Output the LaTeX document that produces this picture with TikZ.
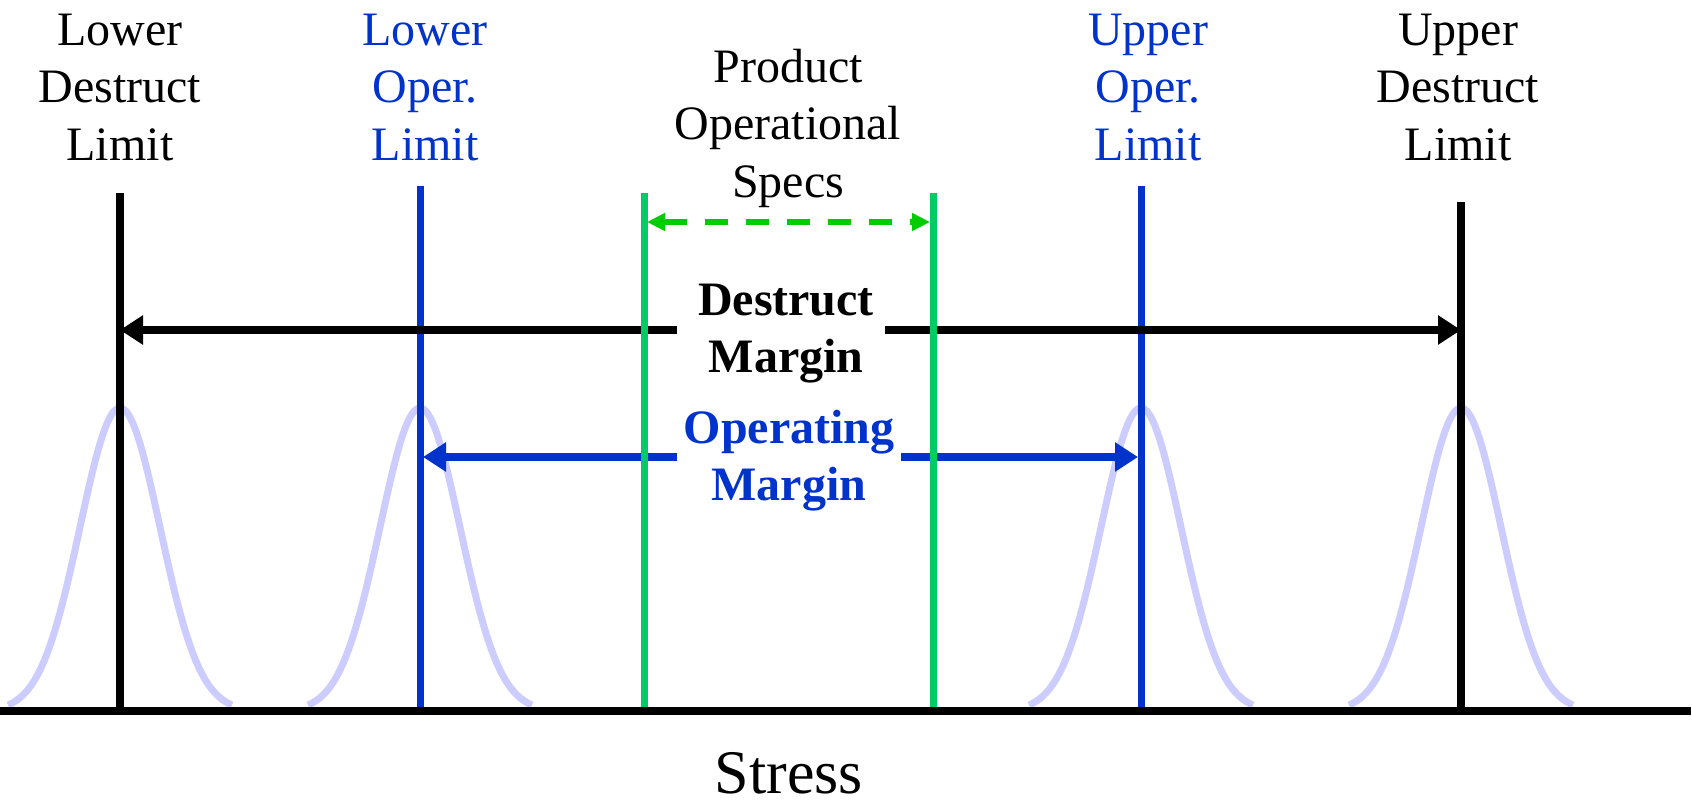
\documentclass[tikz,border=0pt]{standalone}
\usepackage{fontspec}
\setmainfont{Liberation Serif}
\usetikzlibrary{arrows.meta}

\definecolor{operblue}{HTML}{0033CC}
\definecolor{specgreen}{HTML}{00CC66}
\definecolor{specarrow}{HTML}{00CC00}
\definecolor{bellc}{HTML}{CCCCFF}

\tikzset{
  lbl/.style={align=center, inner sep=0pt, anchor=base,
              font=\fontsize{48}{57.5}\selectfont},
  marginlbl/.style={align=center, inner sep=0pt, anchor=base,
              font=\fontsize{48}{57}\selectfont\bfseries},
  limline/.style={line width=8pt},
  operline/.style={line width=7pt, operblue},
  specline/.style={line width=7pt, specgreen},
  bell/.style={line width=7pt, bellc},
  destarrow/.style={line width=8pt, -{Triangle[length=23pt,width=28pt]}},
  operarrow/.style={line width=8pt, operblue, -{Triangle[length=23pt,width=28pt]}, shorten >=3pt},
  specdash/.style={line width=6pt, specarrow, dash pattern=on 23pt off 18pt,
              {Triangle[length=18pt,width=17pt]}-{Triangle[length=18pt,width=17pt]},
              shorten >=3pt, shorten <=3pt},
}

\begin{document}
\begin{tikzpicture}[x=1pt,y=-1pt]
\useasboundingbox (0,0) rectangle (1692,801);

% line positions along the stress axis
\coordinate (ldT) at (120,193);  \coordinate (ldB) at (120,711);
\coordinate (loT) at (420,186);  \coordinate (loB) at (420,711);
\coordinate (psT) at (644,193);  \coordinate (psB) at (644,711);
\coordinate (peT) at (933,193);  \coordinate (peB) at (933,711);
\coordinate (uoT) at (1141,186); \coordinate (uoB) at (1141,711);
\coordinate (udT) at (1461,202); \coordinate (udB) at (1461,711);
\coordinate (axL) at (0,711);    \coordinate (axR) at (1691,711);

% distributions centred on each limit
\foreach \c in {120,420,1141,1461}{
  \draw[bell] plot[domain=-112:112, samples=90, smooth]
    ({\c+\x}, {711-303*exp(-(\x*\x)/3200)});
}

% limit lines
\draw[limline] (ldT) -- (ldB);
\draw[limline] (udT) -- (udB);
\draw[operline] (loT) -- (loB);
\draw[operline] (uoT) -- (uoB);

% margin labels and arrows (node base = last line)
\node[marginlbl] (dm) at (786,372) {Destruct\\Margin};
\node[marginlbl, operblue] (om) at (789,500) {Operating\\Margin};
\coordinate (dmL) at (677,330); \coordinate (dmR) at (885,330);
\coordinate (omL) at (677,457); \coordinate (omR) at (901,457);
\draw[destarrow] (dmL) -- (ldT |- dmL);
\draw[destarrow] (dmR) -- (udT |- dmR);
\draw[operarrow] (omL) -- (loT |- omL);
\draw[operarrow] (omR) -- (uoT |- omR);

% product specification lines
\draw[specline] (psT) -- (psB);
\draw[specline] (peT) -- (peB);
\coordinate (spL) at (644,222); \coordinate (spR) at (933,222);
\draw[specdash] (spL) -- (spR);

% stress axis
\draw[line width=8pt] (axL) -- (axR);

% limit labels
\node[lbl] (ldl) at (120,160) {Lower\\Destruct\\Limit};
\node[lbl, operblue] (lol) at (425,160) {Lower\\Oper.\\Limit};
\node[lbl] (pos) at (788,197) {Product\\Operational\\Specs};
\node[lbl, operblue] (uol) at (1148,160) {Upper\\Oper.\\Limit};
\node[lbl] (udl) at (1458,160) {Upper\\Destruct\\Limit};

\node[inner sep=0pt, anchor=base, font=\fontsize{62}{70}\selectfont] (stress) at (789,793) {Stress};
\end{tikzpicture}
\end{document}
